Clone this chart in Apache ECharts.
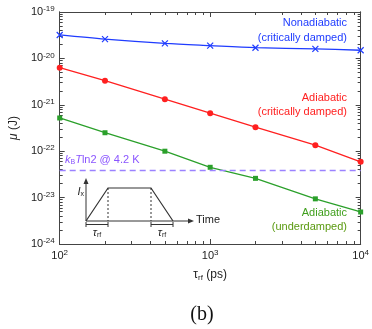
<!DOCTYPE html>
<html>
<head>
<meta charset="utf-8">
<script src="https://cdn.jsdelivr.net/npm/echarts@6/dist/echarts.min.js"></script>
<style>
  html, body { margin: 0; padding: 0; background: #fff; }
  #chart { width: 372px; height: 329px; }
</style>
</head>
<body>
<div id="chart"></div>
<script>
    // rise/fall time in ps
    var tauRf = [100, 200, 500, 1000, 2000, 5000, 10000];
    // energy dissipation in J
    var nonadiabatic = [3.2e-20, 2.6e-20, 2.1e-20, 1.88e-20, 1.7e-20, 1.6e-20, 1.5e-20];
    var adiabaticCrit = [6.3e-21, 3.3e-21, 1.32e-21, 6.6e-22, 3.3e-22, 1.35e-22, 5.9e-23];
    var adiabaticUnder = [5.2e-22, 2.5e-22, 1.0e-22, 4.5e-23, 2.6e-23, 9.4e-24, 4.9e-24];
    var kTln2 = 4.02e-23;
    // decade exponents used as tick labels
    var xTickExp = [2, 3, 4];
    var yTickExp = [-24, -23, -22, -21, -20, -19];

    var font = 'Liberation Sans, Arial, sans-serif';
    var axisColor = '#444';

    function pts(vals) {
        return tauRf.map(function (t, i) { return [Math.log10(t), Math.log10(vals[i])]; });
    }
    function minorTicks(exps) {
        var out = [];
        for (var i = 0; i < exps.length - 1; i++) {
            for (var k = 2; k < 10; k++) out.push(exps[i] + Math.log10(k));
        }
        return out;
    }
    var powRich = {
        b: { fontSize: 11, fontFamily: font, color: '#222', lineHeight: 14 },
        s: { fontSize: 8, fontFamily: font, color: '#222', verticalAlign: 'top', lineHeight: 14, padding: [0, 0, 6, 0] }
    };
    function powLabel(v) { return '{b|10}{s|' + Math.round(v) + '}'; }

    function makeAxis(dim, pos, ticks, len, withLabel) {
        var exps = dim === 'x' ? xTickExp : yTickExp;
        var ax = {
            type: 'value',
            position: pos,
            min: exps[0],
            max: exps[exps.length - 1],
            interval: 1,
            axisLine: { show: true, lineStyle: { color: axisColor, width: 1 } },
            axisTick: { show: true, inside: true, length: len, customValues: ticks, lineStyle: { color: axisColor, width: 1 } },
            axisLabel: { show: withLabel, formatter: powLabel, rich: powRich, margin: 5 },
            splitLine: { show: false }
        };
        return ax;
    }

    var xAxes = [
        makeAxis('x', 'bottom', xTickExp, 5, true),
        makeAxis('x', 'bottom', minorTicks(xTickExp), 3, false),
        makeAxis('x', 'top', xTickExp, 5, false),
        makeAxis('x', 'top', minorTicks(xTickExp), 3, false)
    ];
    xAxes[0].name = '{t|τ}{sub|rf}{t| (ps)}';
    xAxes[0].nameLocation = 'middle';
    xAxes[0].nameGap = 24;
    xAxes[0].nameTextStyle = { rich: {
        t: { fontSize: 12, fontFamily: font, color: '#222' },
        sub: { fontSize: 8, fontFamily: font, color: '#222', verticalAlign: 'bottom', padding: [6, 0, 0, 0] }
    } };

    var yAxes = [
        makeAxis('y', 'left', yTickExp, 5, true),
        makeAxis('y', 'left', minorTicks(yTickExp), 3, false),
        makeAxis('y', 'right', yTickExp, 5, false),
        makeAxis('y', 'right', minorTicks(yTickExp), 3, false)
    ];
    yAxes[0].name = '{i|μ}{t| (J)}';
    yAxes[0].nameLocation = 'middle';
    yAxes[0].nameGap = 30;
    yAxes[0].nameTextStyle = { rich: {
        i: { fontSize: 12, fontFamily: font, fontStyle: 'italic', color: '#222' },
        t: { fontSize: 12, fontFamily: font, color: '#222' }
    } };

    var blue = '#1f3cff', red = '#ff2020', green = '#2ba02b', purple = '#8a55ff';

    function txt(x, y, s, color, align) {
        return { type: 'text', x: x, y: y, style: { text: s, fill: color, font: '11px ' + font, align: align || 'right', verticalAlign: 'middle' } };
    }
    function seg(x1, y1, x2, y2, dash) {
        return { type: 'line', shape: { x1: x1, y1: y1, x2: x2, y2: y2 }, style: { stroke: '#333', lineWidth: 1, lineDash: dash || null } };
    }
    var subRich = {
        i: { fontSize: 11, fontFamily: font, fontStyle: 'italic', fill: '#222', color: '#222' },
        sub: { fontSize: 7, fontFamily: font, fill: '#222', color: '#222', padding: [5, 0, 0, 0] }
    };

    var chart = echarts.init(document.getElementById('chart'));
    chart.setOption({
        animation: false,
        grid: { left: 56, right: 8, top: 12, bottom: 85 },
        xAxis: xAxes,
        yAxis: yAxes,
        series: [
            {
                type: 'line', data: pts(nonadiabatic), smooth: 0.3,
                symbol: 'path://M0,0L10,10M10,0L0,10', symbolSize: 6,
                itemStyle: { color: blue, borderColor: blue, borderWidth: 1.2 },
                lineStyle: { color: blue, width: 1.3 }
            },
            {
                type: 'line', data: pts(adiabaticCrit),
                symbol: 'circle', symbolSize: 6,
                itemStyle: { color: red },
                lineStyle: { color: red, width: 1.3 },
                markLine: {
                    silent: true, symbol: 'none', label: { show: false },
                    lineStyle: { color: '#9b82ff', type: [6, 4], width: 1.3 },
                    data: [{ yAxis: Math.log10(kTln2) }]
                }
            },
            {
                type: 'line', data: pts(adiabaticUnder),
                symbol: 'rect', symbolSize: 5,
                itemStyle: { color: green },
                lineStyle: { color: green, width: 1.3 }
            }
        ],
        graphic: [
            txt(347, 23, 'Nonadiabatic', blue),
            txt(347, 38, '(critically damped)', blue),
            txt(347, 98, 'Adiabatic', red),
            txt(347, 112, '(critically damped)', red),
            txt(347, 213, 'Adiabatic', '#3f9f1c'),
            txt(347, 227, '(underdamped)', '#5a9a10'),
            {
                type: 'text', x: 65, y: 160,
                style: {
                    text: '{i|k}{sub|B}{i|T}{t|ln2 @ 4.2 K}', verticalAlign: 'middle',
                    rich: {
                        i: { fontSize: 11, fontFamily: font, fontStyle: 'italic', fill: purple },
                        sub: { fontSize: 7, fontFamily: font, fill: purple, padding: [5, 0, 0, 0] },
                        t: { fontSize: 11, fontFamily: font, fill: purple }
                    }
                }
            },
            // inset pulse sketch
            seg(86, 221, 86, 182),
            { type: 'polygon', shape: { points: [[86, 178], [83.5, 184], [88.5, 184]] }, style: { fill: '#333' } },
            seg(86, 221, 190, 221),
            { type: 'polygon', shape: { points: [[194, 221], [188, 218.5], [188, 223.5]] }, style: { fill: '#333' } },
            { type: 'polyline', shape: { points: [[86, 221], [108, 188], [151, 188], [173, 221]] }, style: { stroke: '#333', lineWidth: 1.2, fill: null } },
            seg(108, 188, 108, 221, [2, 2]),
            seg(151, 188, 151, 221, [2, 2]),
            seg(86, 224.5, 108, 224.5), seg(86, 222, 86, 227), seg(108, 222, 108, 227),
            seg(151, 224.5, 173, 224.5), seg(151, 222, 151, 227), seg(173, 222, 173, 227),
            { type: 'text', x: 97, y: 233, style: { text: '{i|τ}{sub|rf}', align: 'center', verticalAlign: 'middle', rich: subRich } },
            { type: 'text', x: 162, y: 233, style: { text: '{i|τ}{sub|rf}', align: 'center', verticalAlign: 'middle', rich: subRich } },
            { type: 'text', x: 84, y: 192, style: { text: '{i|I}{sub|x}', align: 'right', verticalAlign: 'middle', rich: subRich } },
            { type: 'text', x: 196, y: 220, style: { text: 'Time', fill: '#222', font: '11px ' + font, align: 'left', verticalAlign: 'middle' } },
            { type: 'text', x: 202, y: 315, style: { text: '(b)', fill: '#111', font: '20px "Liberation Serif", "Times New Roman", serif', align: 'center', verticalAlign: 'middle' } }
        ]
    });
</script>
</body>
</html>
